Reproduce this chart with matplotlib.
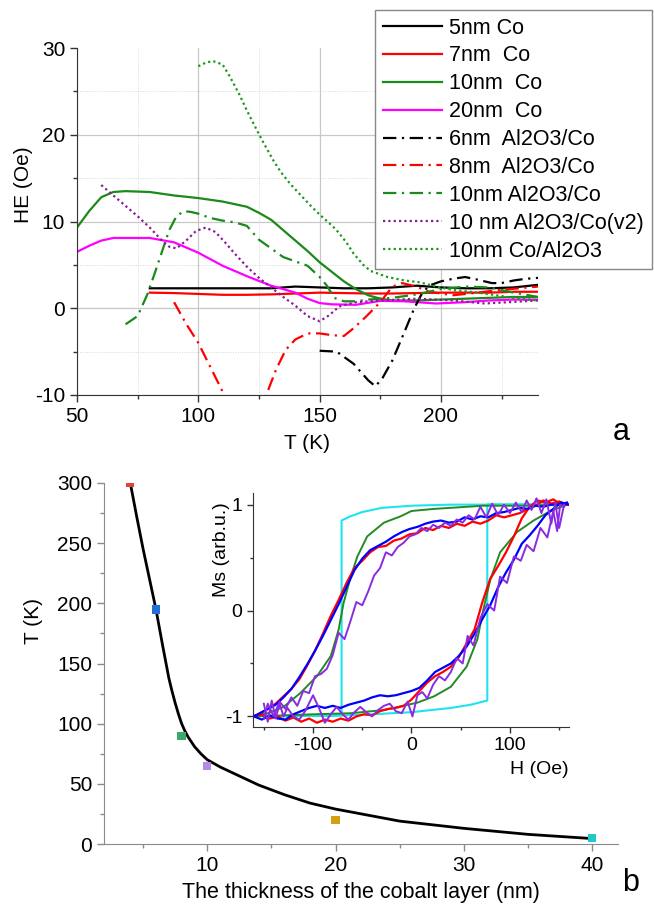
import numpy as np
import matplotlib
matplotlib.use("Agg")
import matplotlib.pyplot as plt
from matplotlib.ticker import MultipleLocator

plt.rcParams["font.family"] = ["Liberation Sans", "DejaVu Sans"]
plt.rcParams["axes.unicode_minus"] = False

# ---- panel a : exchange bias vs temperature ----
co5_T = [80, 90, 100, 110, 120, 130, 140, 150, 160, 170, 180, 190, 200, 210, 220, 230, 240]
co5_HE = [2.3, 2.3, 2.3, 2.3, 2.3, 2.3, 2.5, 2.4, 2.3, 2.3, 2.4, 2.6, 2.4, 2.3, 2.3, 2.4, 2.7]

co7_T = [80, 90, 100, 110, 120, 130, 140, 150, 160, 170, 180, 190, 200, 210, 220, 230, 240]
co7_HE = [1.8, 1.75, 1.65, 1.55, 1.55, 1.6, 1.7, 1.8, 1.75, 1.7, 1.7, 1.75, 1.8, 1.8, 1.8, 1.9, 1.9]

co10_T = [50, 55, 60, 65, 70, 80, 90, 100, 110, 120, 125, 130, 135, 140, 145, 150, 155, 160,
          165, 170, 175, 180, 190, 200, 210, 220, 230, 240]
co10_HE = [9.3, 11.2, 12.8, 13.4, 13.5, 13.4, 13.0, 12.7, 12.3, 11.7, 11.0, 10.2, 9.0, 7.8, 6.6,
           5.3, 4.2, 3.1, 2.2, 1.5, 1.1, 0.9, 0.9, 1.0, 1.1, 1.2, 1.3, 1.3]

co20_T = [50, 55, 60, 65, 70, 80, 90, 100, 110, 120, 130, 140, 145, 150, 155, 165, 175, 185,
          198, 210, 220, 230, 240]
co20_HE = [6.5, 7.2, 7.8, 8.1, 8.1, 8.1, 7.6, 6.4, 4.9, 3.7, 2.6, 1.8, 1.1, 0.6, 0.45, 0.4,
           0.85, 0.8, 0.55, 0.7, 0.9, 1.0, 1.0]

al6_T = [150, 157, 164, 170, 173, 176, 180, 185, 189, 192, 195, 200, 205, 210, 215, 221,
         225, 230, 235, 240]
al6_HE = [-4.9, -5.0, -6.4, -8.3, -9.0, -8.0, -6.0, -2.7, 0.0, 1.6, 2.6, 3.1, 3.4, 3.6, 3.3,
          2.9, 2.9, 3.2, 3.4, 3.5]

al8_T = [90, 95, 100, 105, 110, 115, 120, 125, 128, 132, 136, 140, 145, 150, 155, 160, 164,
         169, 175, 180, 184, 190, 195, 205, 212, 224, 232, 240]
al8_HE = [0.7, -1.8, -4.0, -6.8, -9.6, -12.5, -13.5, -12.0, -10.0, -7.1, -4.8, -3.6, -2.9,
          -2.9, -3.1, -3.2, -2.3, -1.0, 0.7, 2.5, 2.9, 2.5, 1.9, 1.5, 1.7, 2.1, 2.3, 2.5]

al10_T = [70, 75, 79, 82, 85, 88, 91, 94, 97, 100, 105, 110, 115, 120, 125, 130, 135, 140,
          145, 150, 153, 156, 160, 165, 170, 180, 190, 200, 210, 220, 230, 240]
al10_HE = [-1.85, -0.9, 1.6, 4.0, 6.5, 9.0, 10.6, 11.2, 11.1, 10.9, 10.4, 10.1, 9.9, 9.5, 7.9,
           6.9, 5.9, 5.4, 4.9, 3.6, 2.6, 1.2, 0.8, 0.8, 1.0, 1.2, 1.6, 2.2, 2.5, 2.4, 1.8, 1.3]

v2_T = [60, 65, 70, 75, 80, 85, 88, 91, 95, 99, 103, 107, 111, 115, 120, 125, 130, 135, 140,
        145, 150, 154, 158, 165, 175, 190, 205, 218, 228, 240]
v2_HE = [14.2, 13.0, 11.8, 10.6, 9.3, 7.8, 7.1, 6.9, 7.8, 8.9, 9.3, 8.8, 7.6, 6.3, 4.8, 3.5,
         2.4, 1.3, 0.3, -0.9, -1.5, -0.8, 0.2, 0.7, 0.9, 1.1, 0.9, 0.55, 0.7, 0.9]

coal_T = [100, 103, 106, 110, 113, 117, 120, 124, 127, 131, 134, 138, 142, 146, 150, 154, 157,
          161, 164, 168, 171, 175, 178, 185, 191, 198, 205, 212, 218, 225, 232, 240]
coal_HE = [27.9, 28.3, 28.5, 28.1, 26.7, 24.6, 22.8, 20.6, 19.0, 17.0, 15.7, 14.3, 13.1, 11.9,
           10.8, 9.8, 9.0, 7.6, 6.3, 5.0, 4.3, 3.9, 3.6, 3.2, 3.0, 2.5, 2.1, 1.9, 1.7, 1.4, 1.1, 0.9]

labels_a = ["5nm Co", "7nm  Co", "10nm  Co", "20nm  Co", "6nm  Al2O3/Co", "8nm  Al2O3/Co",
            "10nm Al2O3/Co", "10 nm Al2O3/Co(v2)", "10nm Co/Al2O3"]

# ---- panel b : blocking temperature vs thickness ----
fit_thick = [4, 4.5, 5, 5.5, 6, 6.5, 7, 7.25, 7.5, 7.75, 8, 8.25, 8.5, 8.75, 9, 9.5, 10, 11, 12,
             14, 16, 18, 20, 25, 30, 35, 40]
fit_temp = [300, 272, 245, 220, 195, 166, 138, 127, 117, 108, 100, 94, 89, 85, 81, 75, 70, 64,
            59, 49, 41, 34, 29, 19, 13, 8, 4.5]
pt_thick = [4, 6, 8, 10, 20, 40]
pt_temp = [300, 195, 90, 65, 20, 5]
pt_colors = ["#e8403c", "#2270d6", "#3aaa6c", "#b48ae4", "#d4a012", "#22c8c8"]

# ---- inset : hysteresis loops ----
cy_H = [-150, -71, -40, 0, 40, 60, 77, 77, 150, 77, 40, 0, -30, -50, -62, -71, -71, -150]
cy_M = [-1.0, -0.99, -0.98, -0.96, -0.92, -0.89, -0.85, 1.0, 1.0, 1.0, 1.0, 0.99, 0.97, 0.93,
        0.89, 0.85, -0.99, -1.0]

gr_up_H = [160, 141, 124, 107, 73, 40, 23, 0, -11, -28, -45, -55, -62, -69, -74, -82, -96,
           -113, -130, -146, -160]
gr_up_M = [1.0, 1.0, 0.99, 0.99, 0.99, 0.97, 0.96, 0.94, 0.89, 0.83, 0.70, 0.51, 0.31, 0.07,
           -0.18, -0.43, -0.62, -0.78, -0.91, -0.97, -0.99]
gr_dn_H = [-160, -130, -100, -62, -28, 6, 23, 40, 56, 67, 73, 80, 90, 107, 124, 141, 158]
gr_dn_M = [-1.0, -0.99, -0.98, -0.97, -0.94, -0.87, -0.81, -0.72, -0.53, -0.27, 0.01, 0.29,
           0.55, 0.74, 0.85, 0.94, 1.0]

loop_up_H = [158, 150, 142, 134, 126, 118, 110, 102, 94, 86, 78, 70, 62, 54, 46, 38, 30, 22,
             14, 6, -2, -10, -18, -26, -34, -42, -50, -58, -66, -74, -82, -90, -98, -106,
             -114, -122, -130, -138, -146, -154, -160]
loop_dn_H = [-160, -152, -144, -136, -128, -120, -112, -104, -96, -88, -80, -72, -64, -56, -48,
             -40, -32, -24, -16, -8, 0, 8, 16, 24, 32, 40, 48, 56, 64, 72, 80, 88, 96, 104,
             112, 120, 128, 136, 144, 152, 160]
red_up_M = [1.0, 1.03, 1.01, 1.04, 0.99, 0.96, 0.92, 0.90, 0.88, 0.90, 0.85, 0.82, 0.84, 0.80,
            0.82, 0.78, 0.80, 0.76, 0.78, 0.73, 0.72, 0.68, 0.66, 0.61, 0.60, 0.55, 0.47, 0.40,
            0.26, 0.10, -0.05, -0.22, -0.38, -0.52, -0.65, -0.74, -0.81, -0.88, -0.93, -0.97, -1.0]
red_dn_M = [-1.0, -0.98, -1.02, -1.0, -1.04, -1.01, -1.05, -1.02, -1.06, -1.03, -1.05, -1.02,
            -1.04, -1.0, -0.98, -0.99, -0.95, -0.93, -0.92, -0.90, -0.84, -0.76, -0.68, -0.62,
            -0.58, -0.53, -0.44, -0.31, -0.18, 0.08, 0.30, 0.42, 0.55, 0.70, 0.87, 0.98, 1.04,
            1.02, 1.05, 1.0, 1.0]
blue_up_M = [1.02, 1.0, 1.0, 0.98, 0.99, 0.96, 0.97, 0.95, 0.93, 0.92, 0.88, 0.89, 0.86, 0.88,
             0.84, 0.83, 0.85, 0.84, 0.82, 0.79, 0.77, 0.74, 0.70, 0.65, 0.61, 0.57, 0.49, 0.38,
             0.22, 0.06, -0.09, -0.24, -0.38, -0.51, -0.63, -0.74, -0.82, -0.89, -0.93, -0.97, -1.0]
blue_dn_M = [-1.0, -1.03, -0.99, -1.02, -1.03, -0.98, -0.95, -0.92, -0.90, -0.92, -0.90, -0.92,
             -0.89, -0.87, -0.85, -0.82, -0.80, -0.81, -0.80, -0.78, -0.76, -0.73, -0.66, -0.58,
             -0.54, -0.50, -0.43, -0.34, -0.22, -0.08, 0.05, 0.22, 0.36, 0.48, 0.63, 0.71, 0.80,
             0.90, 0.96, 1.02, 1.0]

pu_up_H = [155, 150, 146, 142, 137, 132, 127, 122, 117, 112, 106, 100, 94, 88, 82, 76, 70, 64,
           58, 52, 46, 40, 34, 28, 22, 16, 10, 4, -2, -8, -14, -20, -26, -32, -38, -44, -50,
           -56, -62, -68, -74, -80, -86, -92, -98, -104, -110, -116, -122, -128, -134, -140,
           -146, -150]
pu_up_M = [1.0, 0.78, 1.02, 0.82, 1.05, 0.92, 1.06, 0.95, 1.04, 0.93, 1.02, 0.92, 1.0, 0.9,
           1.01, 0.88, 0.98, 0.86, 0.90, 0.83, 0.86, 0.80, 0.83, 0.78, 0.81, 0.75, 0.78, 0.72,
           0.70, 0.64, 0.60, 0.52, 0.55, 0.40, 0.33, 0.18, 0.05, 0.08, -0.10, -0.27, -0.21,
           -0.42, -0.55, -0.60, -0.62, -0.78, -0.76, -0.90, -0.82, -0.93, -0.86, -1.0, -0.88, -1.02]
pu_dn_H = [-150, -146, -142, -138, -134, -130, -126, -120, -114, -108, -100, -94, -88, -82, -76,
           -70, -64, -58, -52, -46, -40, -34, -28, -22, -16, -10, -4, 1, 6, 11, 16, 22, 28, 34,
           40, 46, 52, 57, 63, 70, 77, 84, 90, 97, 104, 111, 117, 124, 131, 138, 144, 148, 151, 155]
pu_dn_M = [-0.88, -1.05, -0.85, -1.02, -0.88, -1.0, -0.92, -1.0, -1.03, -0.95, -0.80, -0.92,
           -1.06, -0.98, -0.91, -0.98, -1.03, -0.96, -0.91, -0.96, -1.0, -0.94, -0.90, -0.88,
           -0.95, -0.97, -0.86, -1.0, -0.80, -0.77, -0.83, -0.70, -0.62, -0.66, -0.58, -0.45,
           -0.50, -0.24, -0.33, -0.07, 0.06, 0.0, 0.32, 0.26, 0.51, 0.47, 0.62, 0.56, 0.78,
           0.69, 0.94, 0.75, 1.0, 0.98]

W, H = 654, 906
fig = plt.figure(figsize=(W / 100, H / 100), dpi=100)


def box(l, t, r, b):
    return [l / W, 1 - b / H, (r - l) / W, (b - t) / H]


dashdot = (0, (6, 2.5, 1, 2.5))
dotted = (0, (1, 1.4))

# ===== panel a =====
ax = fig.add_axes(box(77, 48, 538, 395))
styles = [
    (co5_T, co5_HE, "black", "-"),
    (co7_T, co7_HE, "#ff0000", "-"),
    (co10_T, co10_HE, "#1a8a1a", "-"),
    (co20_T, co20_HE, "#ff00ff", "-"),
    (al6_T, al6_HE, "black", dashdot),
    (al8_T, al8_HE, "#ff0000", dashdot),
    (al10_T, al10_HE, "#1a8a1a", dashdot),
    (v2_T, v2_HE, "#8b1a9b", dotted),
    (coal_T, coal_HE, "#1a9a1a", dotted),
]
handles = []
for (x, y, c, ls), lab in zip(styles, labels_a):
    h, = ax.plot(x, y, color=c, linestyle=ls, lw=1.6, label=lab)
    handles.append(h)

ax.set_xlim(50, 240)
ax.set_ylim(-10, 30)
ax.xaxis.set_major_locator(MultipleLocator(50))
ax.xaxis.set_minor_locator(MultipleLocator(25))
ax.yaxis.set_major_locator(MultipleLocator(10))
ax.yaxis.set_minor_locator(MultipleLocator(5))
ax.grid(True, which="major", color="#c8c8c8", lw=0.9)
ax.grid(True, which="minor", color="#d8d8d8", lw=0.7, linestyle=(0, (1, 1.5)))
ax.set_axisbelow(True)
for gl, v in zip(ax.yaxis.get_gridlines(), ax.get_yticks()):
    if v >= 30:
        gl.set_visible(False)
for s in ["top", "right"]:
    ax.spines[s].set_visible(False)
for s in ["left", "bottom"]:
    ax.spines[s].set_color("#333333")
ax.tick_params(which="major", direction="out", length=5, width=1, colors="#333333",
               labelsize=15, labelcolor="black")
ax.tick_params(which="minor", direction="out", length=3, width=1, colors="#333333")
ax.set_xlabel("T (K)", fontsize=15)
ax.set_ylabel("HE (Oe)", fontsize=15)
ax.xaxis.set_label_coords(0.5, -0.113)
ax.yaxis.set_label_coords(-0.095, 0.605)

leg = fig.legend(handles=handles, loc="upper left", bbox_to_anchor=(375 / W, 1 - 10 / H),
                 fontsize=15.5, frameon=True, fancybox=False, edgecolor="#888888",
                 framealpha=1, borderpad=0.35, labelspacing=0.32, handlelength=2.75,
                 handletextpad=0.35, borderaxespad=0)
leg.get_frame().set_linewidth(1.0)

fig.text(621 / W, 1 - 432 / H, "a", fontsize=22, ha="center", va="center")

# ===== panel b =====
bx = fig.add_axes(box(104, 483, 618, 844))
bx.plot(fit_thick, fit_temp, color="black", lw=2)
bx.scatter(pt_thick, pt_temp, c=pt_colors, marker="s", s=36, zorder=3, linewidths=0)
bx.set_xlim(1.95, 42)
bx.set_ylim(0, 300)
bx.xaxis.set_major_locator(MultipleLocator(10))
bx.xaxis.set_minor_locator(MultipleLocator(5))
bx.yaxis.set_major_locator(MultipleLocator(50))
bx.yaxis.set_minor_locator(MultipleLocator(25))
bx.set_xticks([10, 20, 30, 40])
for s in ["top", "right"]:
    bx.spines[s].set_visible(False)
for s in ["left", "bottom"]:
    bx.spines[s].set_color("#8a8a8a")
bx.tick_params(which="major", direction="out", length=5, width=1, colors="#8a8a8a",
               labelsize=15, labelcolor="black")
bx.tick_params(which="minor", direction="out", length=3, width=1, colors="#8a8a8a")
bx.set_xlabel("The thickness of the cobalt layer (nm)", fontsize=15.5)
bx.set_ylabel("T (K)", fontsize=15)
bx.xaxis.set_label_coords(0.5, -0.106)
bx.yaxis.set_label_coords(-0.119, 0.618)

fig.text(631 / W, 1 - 883 / H, "b", fontsize=22, ha="center", va="center")

# ===== inset =====
ix = fig.add_axes(box(253, 493, 569, 727))
ix.set_facecolor("white")
ix.plot(cy_H, cy_M, color="#1ee4ee", lw=1.5)
ix.plot(gr_up_H, gr_up_M, color="#228b22", lw=1.4)
ix.plot(gr_dn_H, gr_dn_M, color="#228b22", lw=1.4)
ix.plot(loop_up_H, red_up_M, color="#ff0000", lw=1.6)
ix.plot(loop_dn_H, red_dn_M, color="#ff0000", lw=1.6)
ix.plot(loop_up_H, blue_up_M, color="#0000ff", lw=1.6)
ix.plot(loop_dn_H, blue_dn_M, color="#0000ff", lw=1.6)
ix.plot(pu_up_H, pu_up_M, color="#8a2be2", lw=1.4)
ix.plot(pu_dn_H, pu_dn_M, color="#8a2be2", lw=1.4)
ix.set_xlim(-161, 160)
ix.set_ylim(-1.1, 1.11)
ix.xaxis.set_major_locator(MultipleLocator(100))
ix.xaxis.set_minor_locator(MultipleLocator(50))
ix.yaxis.set_major_locator(MultipleLocator(1))
ix.yaxis.set_minor_locator(MultipleLocator(0.5))
for s in ["top", "right"]:
    ix.spines[s].set_visible(False)
for s in ["left", "bottom"]:
    ix.spines[s].set_color("#333333")
ix.tick_params(which="major", direction="out", length=4, width=1, colors="#333333",
               labelsize=14, labelcolor="black")
ix.tick_params(which="minor", direction="out", length=2.5, width=1, colors="#333333")
ix.set_xlabel("H (Oe)", fontsize=14, ha="right")
ix.set_ylabel("Ms (arb.u.)", fontsize=14)
ix.xaxis.set_label_coords(1.0, -0.145)
ix.yaxis.set_label_coords(-0.073, 0.756)

fig.savefig("out.png", dpi=100)
